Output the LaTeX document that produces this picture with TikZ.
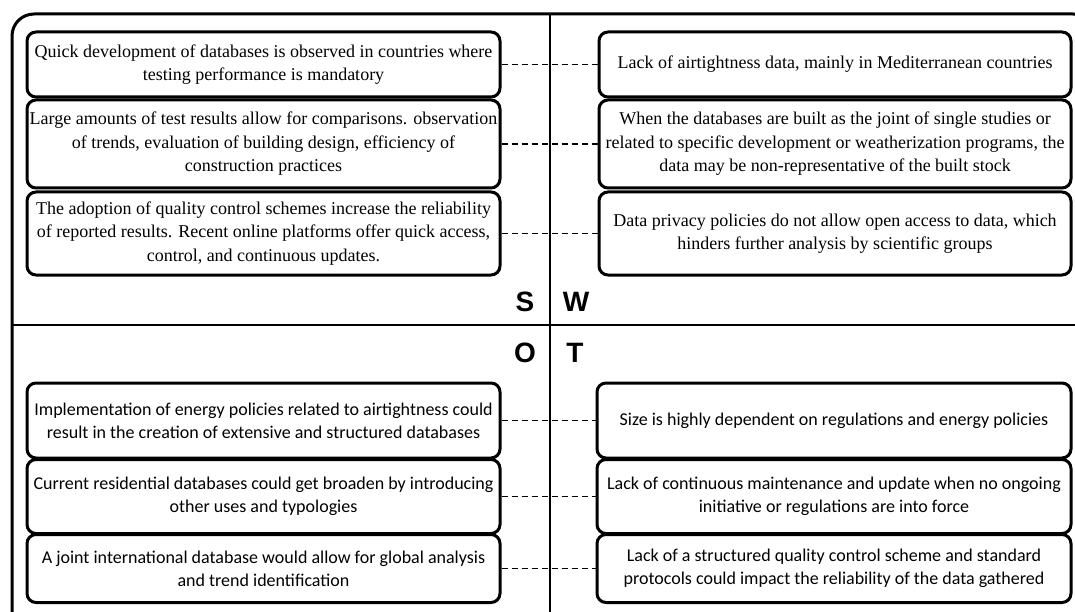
\documentclass[tikz,border=0pt]{standalone}
\usepackage{fontspec}
\setmainfont{Liberation Serif}
\newfontfamily\calfont{Carlito}
\newfontfamily\headfont{Liberation Sans}
\begin{document}
\begin{tikzpicture}[x=1pt,y=-1pt,
  sbox/.style={draw, line width=3pt, rounded corners=9pt, inner sep=0pt, align=center,
    font=\fontsize{18}{23.5}\selectfont},
  obox/.style={sbox, font=\calfont\fontsize{18}{23}\selectfont},
  link/.style={line width=1.4pt, dash pattern=on 6pt off 4pt},
  letter/.style={font=\headfont\bfseries\fontsize{28}{28}\selectfont, inner sep=0pt},
  divider/.style={line width=2.4pt}]
\useasboundingbox (0,0) rectangle (1075,612);
\begin{scope}
\clip (0,0) rectangle (1075,612);
\draw[line width=3pt, rounded corners=22pt] (12,14) rectangle (1095,635);
\end{scope}
\coordinate (vt) at (550,14);
\coordinate (vb) at (550,612);
\coordinate (hl) at (12,325);
\coordinate (hr) at (1075,325);
\draw[divider] (vt) -- (vb);
\draw[divider] (hl) -- (hr);
% Strengths
\node[sbox, minimum width=473pt, minimum height=65pt] (s1) at (263.5,64.5)
  {Quick development of databases is observed in countries where\\testing performance is mandatory};
\node[sbox, minimum width=473pt, minimum height=88pt] (s2) at (263.5,144)
  {Large amounts of test results allow for comparisons. observation\\of trends, evaluation of building design, efficiency of\\construction practices};
\node[sbox, minimum width=473pt, minimum height=83pt] (s3) at (263.5,233.5)
  {The adoption of quality control schemes increase the reliability\\of reported results. Recent online platforms offer quick access,\\control, and continuous updates.};
% Weaknesses
\node[sbox, minimum width=472pt, minimum height=65pt] (w1) at (835,64.5)
  {Lack of airtightness data, mainly in Mediterranean countries};
\node[sbox, minimum width=472pt, minimum height=88pt] (w2) at (835,144)
  {When the databases are built as the joint of single studies or\\related to specific development or weatherization programs, the\\data may be non-representative of the built stock};
\node[sbox, minimum width=472pt, minimum height=83pt] (w3) at (835,233.5)
  {Data privacy policies do not allow open access to data, which\\hinders further analysis by scientific groups};
% Opportunities
\node[obox, minimum width=473pt, minimum height=75pt] (o1) at (263.5,420.5)
  {Implementation of energy policies related to airtightness could\\result in the creation of extensive and structured databases};
\node[obox, minimum width=473pt, minimum height=74pt] (o2) at (263.5,496.5)
  {Current residential databases could get broaden by introducing\\other uses and typologies};
\node[obox, minimum width=473pt, minimum height=68pt] (o3) at (263.5,568.5)
  {A joint international database would allow for global analysis\\and trend identification};
% Threats
\node[obox, minimum width=474pt, minimum height=75pt] (t1) at (834,420.5)
  {Size is highly dependent on regulations and energy policies};
\node[obox, minimum width=474pt, minimum height=74pt] (t2) at (834,496.5)
  {Lack of continuous maintenance and update when no ongoing\\initiative or regulations are into force};
\node[obox, minimum width=474pt, minimum height=68pt] (t3) at (834,568.5)
  {Lack of a structured quality control scheme and standard\\protocols could impact the reliability of the data gathered};
% links
\draw[link] (s1.east) -- (w1.west);
\draw[link] (s2.east) -- (w2.west);
\draw[link] (s3.east) -- (w3.west);
\draw[link] (o1.east) -- (t1.west);
\draw[link] (o2.east) -- (t2.west);
\draw[link] (o3.east) -- (t3.west);
% letters
\node[letter] (ls) at (525,302) {S};
\node[letter] (lw) at (576,302) {W};
\node[letter] (lo) at (525,353) {O};
\node[letter] (lt) at (575,353) {T};
\end{tikzpicture}
\end{document}
